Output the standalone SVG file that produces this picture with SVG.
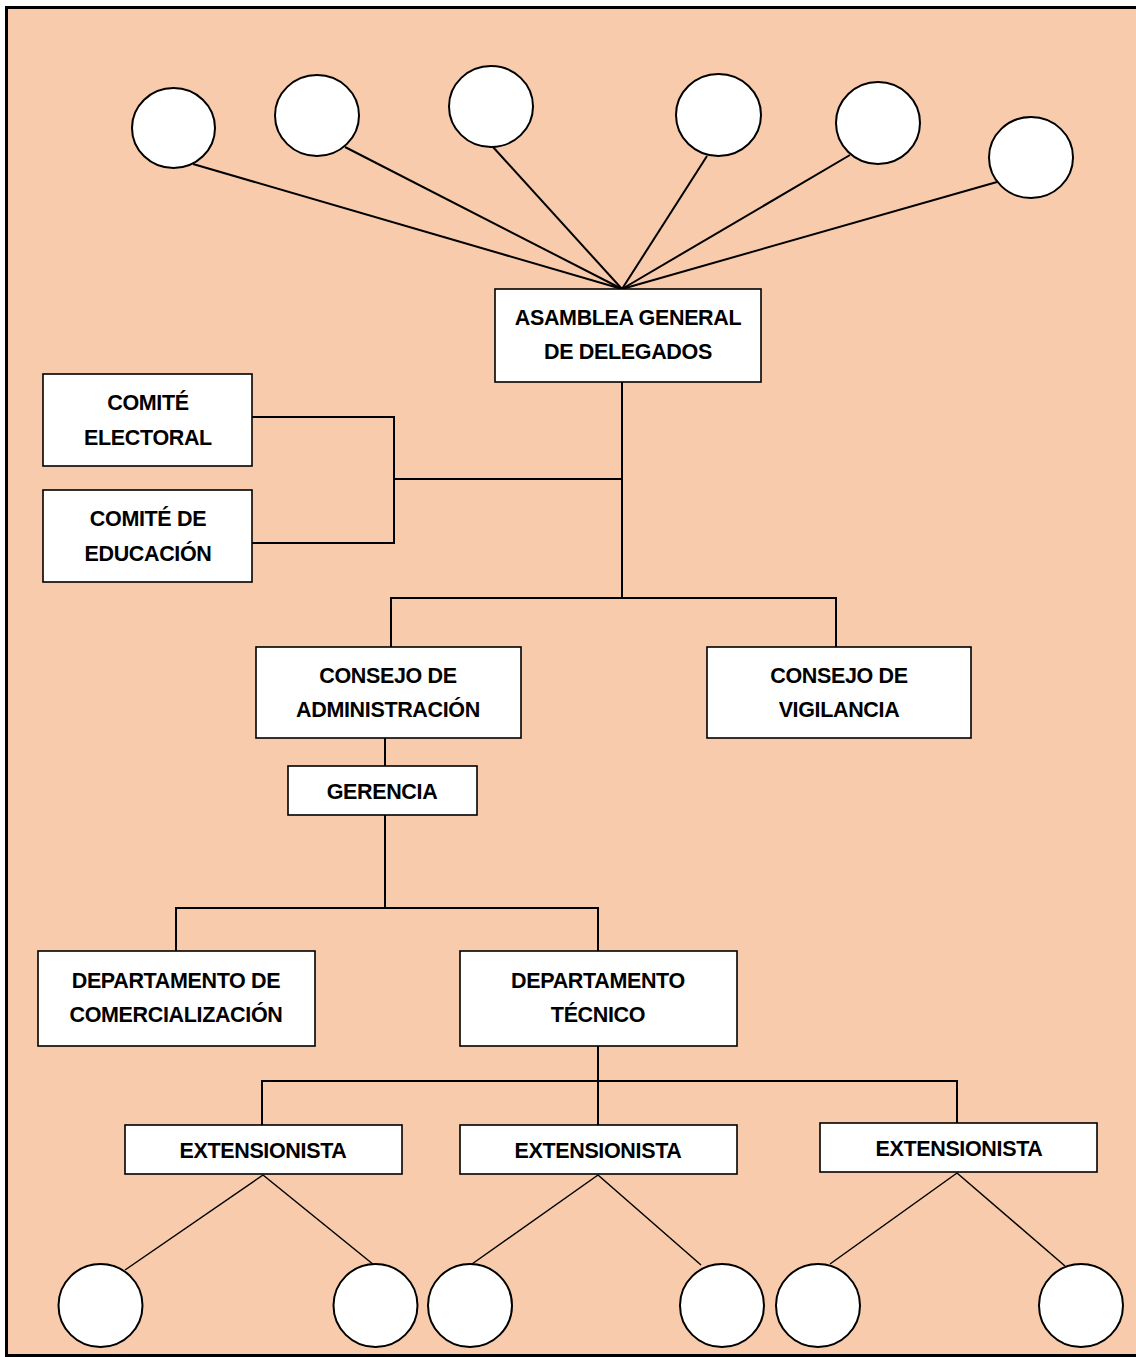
<svg xmlns="http://www.w3.org/2000/svg" width="1136" height="1357" viewBox="0 0 1136 1357">
<style>
.box{fill:#fff;stroke:#000;stroke-width:1.6}
.circ{fill:#fff;stroke:#000;stroke-width:2}
.t{font-family:"Liberation Sans",Arial,sans-serif;font-weight:bold;font-size:21.5px;letter-spacing:-0.35px;fill:#000;text-anchor:middle}
#connectors line,#connectors polyline{stroke:#000;stroke-width:2;fill:none}
</style>
<rect x="0" y="0" width="1136" height="1357" fill="#fff"/>
<rect x="6.5" y="7.5" width="1140" height="1348" fill="#F7CBAC" stroke="#000" stroke-width="3"/>
<g id="connectors">
<line x1="193" y1="164" x2="622" y2="289"/>
<line x1="345" y1="147" x2="622" y2="289"/>
<line x1="493" y1="147" x2="622" y2="289"/>
<line x1="707" y1="156" x2="622" y2="289"/>
<line x1="850" y1="155" x2="622" y2="289"/>
<line x1="997" y1="182" x2="622" y2="289"/>
<line x1="622" y1="382" x2="622" y2="598"/>
<polyline points="252,417 394,417 394,543 252,543"/>
<line x1="394" y1="479" x2="622" y2="479"/>
<polyline points="391,647 391,598 836,598 836,647"/>
<line x1="385" y1="738" x2="385" y2="766"/>
<line x1="385" y1="815" x2="385" y2="908"/>
<polyline points="176,951 176,908 598,908 598,951"/>
<line x1="598" y1="1046" x2="598" y2="1125"/>
<polyline points="262,1125 262,1081 957,1081 957,1123"/>
<line x1="263" y1="1175" x2="125" y2="1270" style="stroke-width:1.5"/>
<line x1="263" y1="1175" x2="374" y2="1265" style="stroke-width:1.5"/>
<line x1="598" y1="1175" x2="472" y2="1264" style="stroke-width:1.5"/>
<line x1="598" y1="1175" x2="701" y2="1265" style="stroke-width:1.5"/>
<line x1="957" y1="1173" x2="830" y2="1264" style="stroke-width:1.5"/>
<line x1="957" y1="1173" x2="1065" y2="1266" style="stroke-width:1.5"/>
</g>
<g id="c1"><ellipse class="circ" cx="173.5" cy="128" rx="41.5" ry="40"/></g>
<g id="c2"><ellipse class="circ" cx="317" cy="115.5" rx="42" ry="40.5"/></g>
<g id="c3"><ellipse class="circ" cx="491" cy="106.5" rx="42" ry="40.5"/></g>
<g id="c4"><ellipse class="circ" cx="718.5" cy="115" rx="42.5" ry="41"/></g>
<g id="c5"><ellipse class="circ" cx="878" cy="123" rx="42" ry="41"/></g>
<g id="c6"><ellipse class="circ" cx="1031" cy="157.5" rx="42" ry="40.5"/></g>
<g id="asamblea"><rect class="box" x="495" y="289" width="266" height="93"/>
<text class="t" x="628" y="325">ASAMBLEA GENERAL</text><text class="t" x="628" y="359">DE DELEGADOS</text></g>
<g id="comite-electoral"><rect class="box" x="43" y="374" width="209" height="92"/>
<text class="t" x="148" y="410">COMITÉ</text><text class="t" x="148" y="445">ELECTORAL</text></g>
<g id="comite-educacion"><rect class="box" x="43" y="490" width="209" height="92"/>
<text class="t" x="148" y="526">COMITÉ DE</text><text class="t" x="148" y="561">EDUCACIÓN</text></g>
<g id="consejo-admin"><rect class="box" x="256" y="647" width="265" height="91"/>
<text class="t" x="388" y="683">CONSEJO DE</text><text class="t" x="388" y="717">ADMINISTRACIÓN</text></g>
<g id="consejo-vigilancia"><rect class="box" x="707" y="647" width="264" height="91"/>
<text class="t" x="839" y="683">CONSEJO DE</text><text class="t" x="839" y="717">VIGILANCIA</text></g>
<g id="gerencia"><rect class="box" x="288" y="766" width="189" height="49"/>
<text class="t" x="382" y="799">GERENCIA</text></g>
<g id="dept-comercializacion"><rect class="box" x="38" y="951" width="277" height="95"/>
<text class="t" x="176" y="988">DEPARTAMENTO DE</text><text class="t" x="176" y="1022">COMERCIALIZACIÓN</text></g>
<g id="dept-tecnico"><rect class="box" x="460" y="951" width="277" height="95"/>
<text class="t" x="598" y="988">DEPARTAMENTO</text><text class="t" x="598" y="1022">TÉCNICO</text></g>
<g id="ext1"><rect class="box" x="125" y="1125" width="277" height="49"/>
<text class="t" x="263" y="1158">EXTENSIONISTA</text></g>
<g id="ext2"><rect class="box" x="460" y="1125" width="277" height="49"/>
<text class="t" x="598" y="1158">EXTENSIONISTA</text></g>
<g id="ext3"><rect class="box" x="820" y="1123" width="277" height="49"/>
<text class="t" x="959" y="1156">EXTENSIONISTA</text></g>
<g id="b1"><ellipse class="circ" cx="100.5" cy="1305.5" rx="42" ry="41.5"/></g>
<g id="b2"><ellipse class="circ" cx="375.5" cy="1305.5" rx="42" ry="41.5"/></g>
<g id="b3"><ellipse class="circ" cx="470" cy="1305.5" rx="42" ry="41.5"/></g>
<g id="b4"><ellipse class="circ" cx="722" cy="1305.5" rx="42" ry="41.5"/></g>
<g id="b5"><ellipse class="circ" cx="818" cy="1305.5" rx="42" ry="41.5"/></g>
<g id="b6"><ellipse class="circ" cx="1081" cy="1305.5" rx="42" ry="41.5"/></g>
</svg>
